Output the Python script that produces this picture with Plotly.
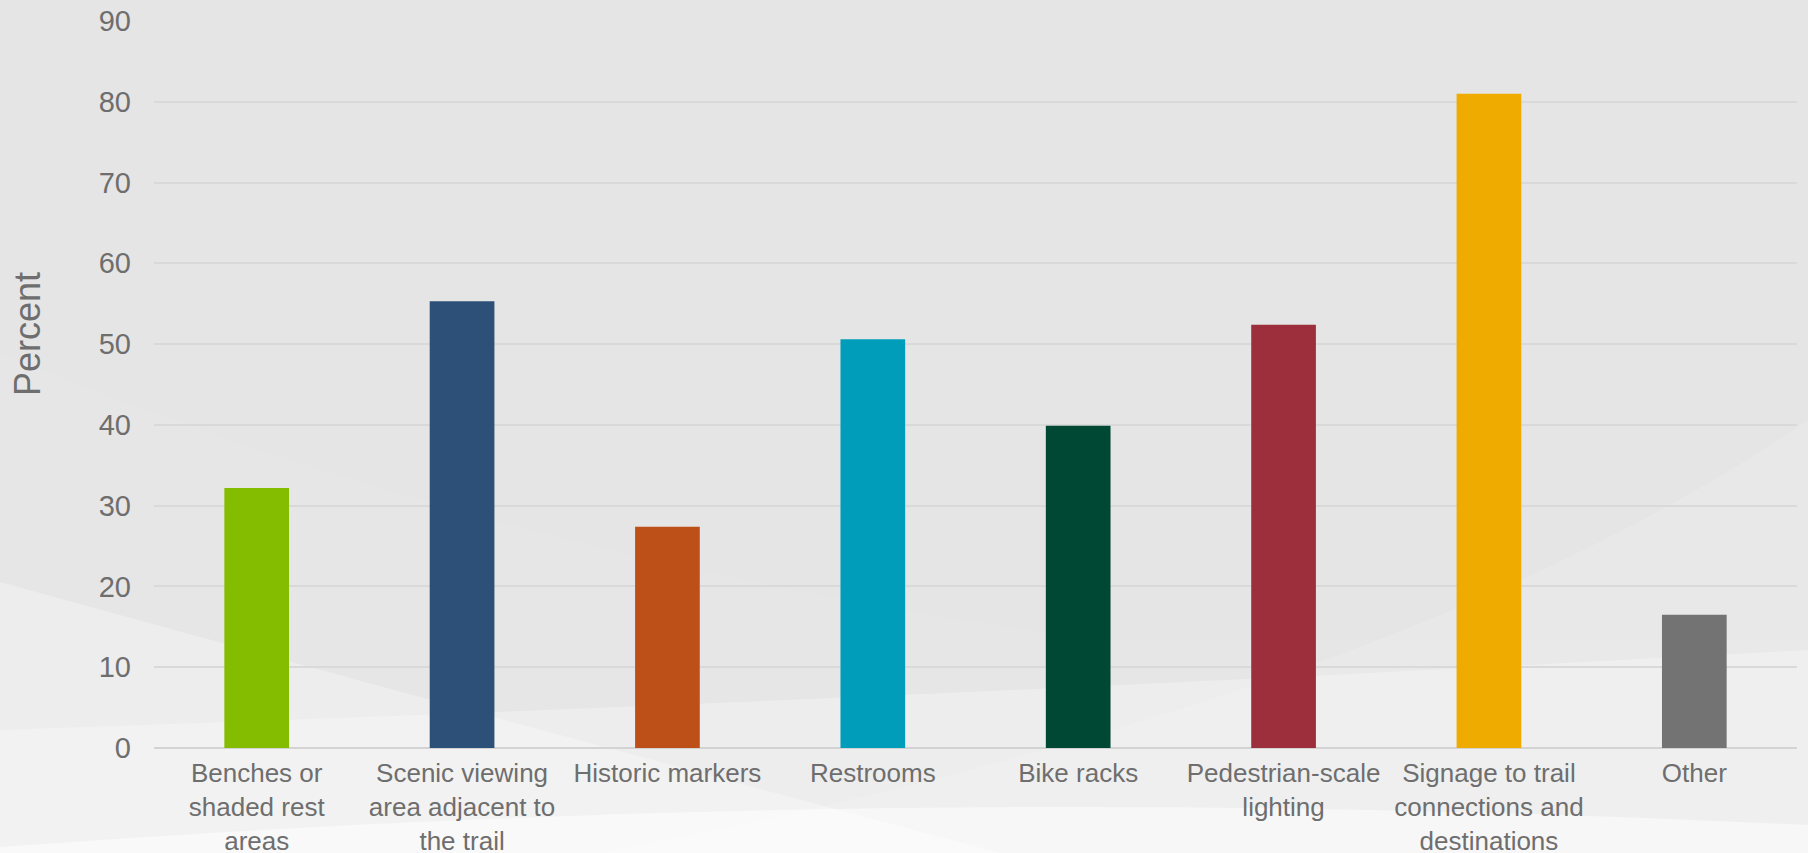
import plotly.graph_objects as go

categories = [
    "Benches or<br>shaded rest<br>areas",
    "Scenic viewing<br>area adjacent to<br>the trail",
    "Historic markers",
    "Restrooms",
    "Bike racks",
    "Pedestrian-scale<br>lighting",
    "Signage to trail<br>connections and<br>destinations",
    "Other",
]
values = [32.2, 55.3, 27.4, 50.6, 39.9, 52.4, 81.0, 16.5]
colors = ["#84BD00", "#2C5077", "#BD5018", "#009DBB", "#004833", "#9D2E3B", "#F0AB00", "#737373"]
y_ticks = [0, 10, 20, 30, 40, 50, 60, 70, 80, 90]

W, H = 1808, 853
L, R, T, B = 154, 11, 21, 105
PW, PH = W - L - R, H - T - B


def px(x):
    return (x - L) / PW


def py(y):
    return (H - B - y) / PH


def path(pts):
    out = []
    for cmd, coords in pts:
        c = []
        for i in range(0, len(coords), 2):
            c.append(f"{px(coords[i]):.4f},{py(coords[i+1]):.4f}")
        out.append(cmd + " " + " ".join(c))
    return " ".join(out) + " Z"


bg_shapes = [
    ([("M", [0, 353]), ("Q", [500, 560, 1100, 640]), ("L", [1808, 640]), ("L", [1808, 853]), ("L", [0, 853])], "rgba(255,255,255,0.07)"),
    ([("M", [600, 853]), ("Q", [1400, 700, 1808, 420]), ("L", [1808, 853])], "rgba(255,255,255,0.14)"),
    ([("M", [0, 582]), ("Q", [500, 720, 1000, 853]), ("L", [0, 853])], "rgba(255,255,255,0.3)"),
    ([("M", [0, 730]), ("Q", [900, 700, 1808, 650]), ("L", [1808, 853]), ("L", [0, 853])], "rgba(255,255,255,0.3)"),
    ([("M", [0, 847]), ("Q", [900, 780, 1808, 825]), ("L", [1808, 853]), ("L", [0, 853])], "rgba(255,255,255,0.5)"),
]

shapes = [
    dict(type="path", path=path(p), xref="paper", yref="paper", fillcolor=c,
         line=dict(width=0), layer="below")
    for p, c in bg_shapes
]

fig = go.Figure(
    go.Bar(
        x=categories,
        y=values,
        marker=dict(color=colors, line=dict(width=0)),
        hoverinfo="x+y",
    )
)

fig.update_layout(
    width=W,
    height=H,
    margin=dict(l=L, r=R, t=T, b=B, autoexpand=False),
    paper_bgcolor="#E5E5E5",
    plot_bgcolor="rgba(0,0,0,0)",
    bargap=0.685,
    showlegend=False,
    font=dict(family="Liberation Sans, Arial, sans-serif", color="#6E6E6E"),
    shapes=shapes,
    annotations=[
        dict(text="Percent", xref="paper", yref="paper", x=px(27), y=py(334),
             xanchor="center", yanchor="middle", textangle=-90, showarrow=False,
             font=dict(size=36, color="#6E6E6E"))
    ],
)

fig.update_yaxes(
    range=[0, 90],
    tickvals=y_ticks,
    tickfont=dict(size=29, color="#6E6E6E"),
    gridcolor="#D9D9D9",
    gridwidth=2,
    zeroline=True,
    zerolinecolor="#D3D3D3",
    zerolinewidth=2,
    showline=False,
    ticks="",
    ticklabelstandoff=22,
    automargin=False,
)
fig.update_xaxes(
    tickfont=dict(size=26, color="#6E6E6E"),
    showline=False,
    ticks="",
    tickangle=0,
    ticklabelstandoff=7,
    automargin=False,
)

fig.write_html(
    "out.html",
    config={"displayModeBar": False},
    post_script="document.body.style.margin='0';document.body.style.overflow='hidden';",
)
